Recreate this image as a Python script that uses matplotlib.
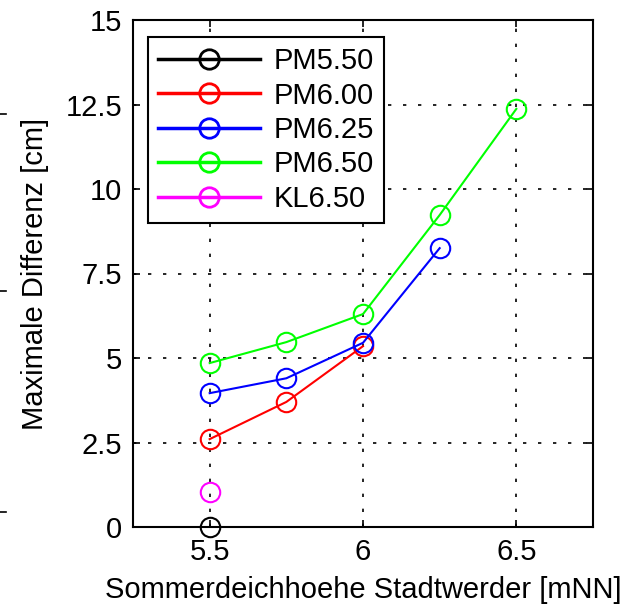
import matplotlib
matplotlib.use('Agg')
import matplotlib.pyplot as plt
from matplotlib.lines import Line2D

plt.rcParams['font.family'] = ['Liberation Sans', 'DejaVu Sans']

# data
x_pm550 = [5.5]
y_pm550 = [0.0]
x_pm600 = [5.5, 5.75, 6.0]
y_pm600 = [2.6, 3.7, 5.35]
x_pm625 = [5.5, 5.75, 6.0, 6.25]
y_pm625 = [3.96, 4.4, 5.45, 8.25]
x_pm650 = [5.5, 5.75, 6.0, 6.25, 6.5]
y_pm650 = [4.85, 5.47, 6.3, 9.23, 12.37]
x_kl650 = [5.5]
y_kl650 = [1.04]

series = [
    ('PM5.50', x_pm550, y_pm550, 'black'),
    ('PM6.00', x_pm600, y_pm600, '#ff0000'),
    ('PM6.25', x_pm625, y_pm625, '#0000ff'),
    ('PM6.50', x_pm650, y_pm650, '#00ff00'),
    ('KL6.50', x_kl650, y_kl650, '#ff00ff'),
]

xticks = [5.5, 6.0, 6.5]
xticklabels = ['5.5', '6', '6.5']
yticks = [0, 2.5, 5, 7.5, 10, 12.5, 15]
yticklabels = ['0', '2.5', '5', '7.5', '10', '12.5', '15']

fs = 21

fig = plt.figure(figsize=(6.29, 6.04), dpi=100)
ax = fig.add_axes([133 / 629, 1 - 527 / 604, 460 / 629, 507 / 604])

for name, xs, ys, col in series:
    ax.plot(xs, ys, '-o', color=col, lw=1.5, markersize=14, markerfacecolor='none',
            markeredgewidth=1.5, label=name, clip_on=False, zorder=3)

ax.set_xlim(5.25, 6.75)
ax.set_ylim(0, 15)
ax.set_xticks(xticks)
ax.set_xticklabels(xticklabels)
ax.set_yticks(yticks)
ax.set_yticklabels(yticklabels)
ax.tick_params(direction='in', length=5, width=1.2, top=True, right=True,
               labelsize=fs, pad=8)
ax.grid(True, color='black', linestyle=(0, (2, 7)), lw=1.2)
for sp in ax.spines.values():
    sp.set_linewidth(1.5)

ax.set_xlabel('Sommerdeichhoehe Stadtwerder [mNN]', fontsize=fs, labelpad=7)
ax.set_ylabel('Maximale Differenz [cm]', fontsize=fs, labelpad=12)

leg = ax.legend(loc='upper left', bbox_to_anchor=(15 / 460, 1 - 17 / 507), fontsize=fs,
                handlelength=3.5, handletextpad=0.45, borderpad=0.35, labelspacing=0.22,
                fancybox=False, framealpha=1, edgecolor='black', borderaxespad=0)
leg.get_frame().set_linewidth(1.5)
for h in leg.get_lines():
    h.set_linewidth(2.5)
    h.set_markeredgewidth(2)

# leftover tick marks of a neighbouring panel at the left border
for yp in [114, 291, 512]:
    fig.add_artist(Line2D([0, 6 / 629], [1 - yp / 604, 1 - yp / 604], color='black', lw=1.2))

fig.savefig('out.png', dpi=100)
